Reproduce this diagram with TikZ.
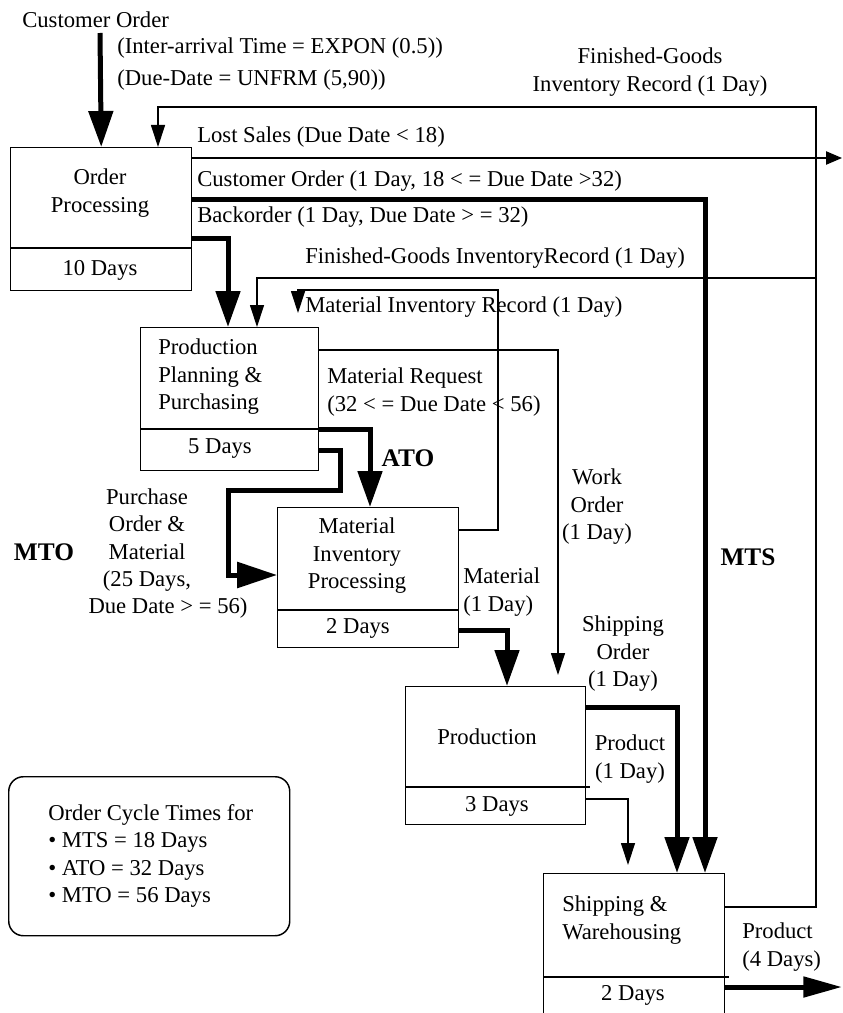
\documentclass[tikz,border=0pt]{standalone}
\usepackage{fontspec}
\setmainfont{Liberation Serif}
\usetikzlibrary{arrows.meta}
\begin{document}
\begin{tikzpicture}[x=0.75pt,y=-0.75pt,
  font=\fontsize{17}{20.6}\selectfont,
  txt/.style={inner sep=0pt, align=center},
  ltxt/.style={inner sep=0pt, anchor=west, align=left},
  tag/.style={inner sep=0pt, font=\fontsize{19}{22}\selectfont\bfseries},
  procbox/.style={draw, line width=1.1pt, inner sep=0pt, anchor=north west, minimum width=181*0.75pt},
  boxline/.style={line width=1.1pt},
  flowthin/.style={line width=0.9pt},
  flowthick/.style={line width=3.75pt},
  smallarrow/.style={flowthin, -{Triangle[length=16.5pt,width=10.5pt]}},
  bigarrow/.style={flowthick, -{Triangle[length=27pt,width=18pt]}},
  lsarrow/.style={flowthin, -{Triangle[length=12pt,width=10pt]}},
  mtoarrow/.style={flowthick, -{Triangle[length=30pt,width=19pt]}},
  outarrow/.style={flowthick, -{Triangle[length=29pt,width=15pt]}},
]
\clip (0,0) rectangle (842,1013);

% process boxes
\node[procbox, minimum height=143*0.75pt] (op) at (10,147) {};
\node[procbox, minimum width=178*0.75pt, minimum height=143*0.75pt] (pp) at (140,327) {};
\node[procbox, minimum height=140*0.75pt] (mi) at (277,507) {};
\node[procbox, minimum width=180*0.75pt, minimum height=138*0.75pt] (prod) at (405,686) {};
\node[procbox, minimum height=145*0.75pt] (ship) at (543,873) {};

% duration dividers
\draw[boxline] (op.west |- 0,248) -- (op.east |- 0,248);
\draw[boxline] (pp.west |- 0,429) -- (pp.east |- 0,429);
\draw[boxline] (mi.west |- 0,610) -- (mi.east |- 0,610);
\draw[boxline] (prod.west |- 0,787) -- ([xshift=2.5pt]prod.east |- 0,787);
\draw[boxline] (ship.west |- 0,977) -- ([xshift=3pt]ship.east |- 0,977);

% box texts
\node[txt] (op-t) at (100,193) {Order\\Processing};
\node[txt] (op-d) at (100,270) {10 Days};
\node[ltxt] (pp-t) at (158,377) {Production\\Planning \&\\Purchasing};
\node[txt] (pp-d) at (220,449) {5 Days};
\node[txt] (mi-t) at (357,556) {Material\\Inventory\\Processing};
\node[txt] (mi-d) at (358,628) {2 Days};
\node[txt] (prod-t) at (487,737) {Production};
\node[txt] (prod-d) at (497,806) {3 Days};
\node[ltxt] (ship-t) at (562,920) {Shipping \&\\Warehousing};
\node[txt] (ship-d) at (633,995) {2 Days};

% legend
\node[draw, line width=1.1pt, rounded corners=11pt, inner sep=0pt, anchor=north west,
      minimum width=281*0.75pt, minimum height=159*0.75pt] (legend) at (8,776) {};
\node[ltxt] (legend-t) at (48,856) {Order Cycle Times for\\• MTS = 18 Days\\• ATO = 32 Days\\• MTO = 56 Days};

% flow labels
\node[ltxt] (co-lbl) at (22,20) {Customer Order};
\node[ltxt] (ia-lbl) at (117,48) {(Inter-arrival Time = EXPON (0.5))};
\node[ltxt] (dd-lbl) at (117,80) {(Due-Date = UNFRM (5,90))};
\node[txt] (fg1-lbl) at (650,72) {Finished-Goods\\Inventory Record (1 Day)};
\node[ltxt] (ls-lbl) at (197,137) {Lost Sales (Due Date < 18)};
\node[ltxt] (mts-lbl) at (197,181) {Customer Order (1 Day, 18 < = Due Date >32)};
\node[ltxt] (bo-lbl) at (197,217) {Backorder (1 Day, Due Date > = 32)};
\node[ltxt] (fg2-lbl) at (305,258) {Finished-Goods InventoryRecord (1 Day)};
\node[ltxt] (mir-lbl) at (305,307) {Material Inventory Record (1 Day)};
\node[ltxt] (mr-lbl) at (327,392) {Material Request\\(32 < = Due Date < 56)};
\node[txt] (wo-lbl) at (597,507) {Work\\Order\\(1 Day)};
\node[tag] (ato-tag) at (408,458) {ATO};
\node[tag] (mto-tag) at (44,552) {MTO};
\node[tag] (mts-tag) at (748,557) {MTS};
\node[txt] (po-lbl) at (147,540) {Purchase\\Order \&\\Material\\(25 Days,};
\node[txt] (po-lbl2) at (168,608) {Due Date > = 56)};
\node[ltxt] (mat-lbl) at (463,592) {Material\\(1 Day)};
\node[txt] (so-lbl) at (623,654) {Shipping\\Order\\(1 Day)};
\node[txt] (pr-lbl) at (630,759) {Product\\(1 Day)};
\node[ltxt] (out-lbl) at (742,947) {Product\\(4 Days)};

% free ends and rail points
\coordinate (co-src) at (100,33);
\coordinate (fg-rail-top) at (816,107);
\coordinate (fg-branch) at (816,278);
\coordinate (ls-end) at (842,158);
\coordinate (mir-turn) at (498,290);
\coordinate (mir-end) at (298,313);
\coordinate (wo-end) at (558,675);
\coordinate (so-end) at (628,865);
\coordinate (out-end) at (842,987);

% incoming customer orders
\draw[bigarrow] (co-src) -- (op.north);

% finished-goods inventory records
\draw[smallarrow] (ship.east |- 0,907) -| (fg-rail-top) -| (op.north -| 158,0);
\draw[smallarrow] (fg-branch) -| (pp.north -| 257,0);

% lost sales
\draw[lsarrow] (op.east |- 0,158) -- (ls-end);

% make-to-stock orders
\draw[bigarrow] (op.east |- 0,199) -| (ship.north -| 705,0);

% backorders
\draw[bigarrow] (op.east |- 0,238) -| (pp.north -| 228,0);

% material inventory record
\draw[smallarrow] (mi.east |- 0,530) -| (mir-turn) -| (mir-end);

% material request / work order
\draw[smallarrow] (pp.east |- 0,350) -| (wo-end);

% assemble-to-order
\draw[bigarrow] (pp.east |- 0,429) -| (mi.north -| 370,0);

% make-to-order purchase path
\draw[mtoarrow] (pp.east |- 0,450) -| (340,490) -| (228,575) -- (mi.west |- 0,575);

% material to production
\draw[bigarrow] (mi.east |- 0,630) -| (prod.north -| 507,0);

% shipping order
\draw[smallarrow] (prod.east |- 0,799) -| (so-end);

% product to shipping
\draw[bigarrow] (prod.east |- 0,707) -| (ship.north -| 677,0);

% product out
\draw[outarrow] (ship.east |- 0,987) -- (out-end);
\end{tikzpicture}
\end{document}
